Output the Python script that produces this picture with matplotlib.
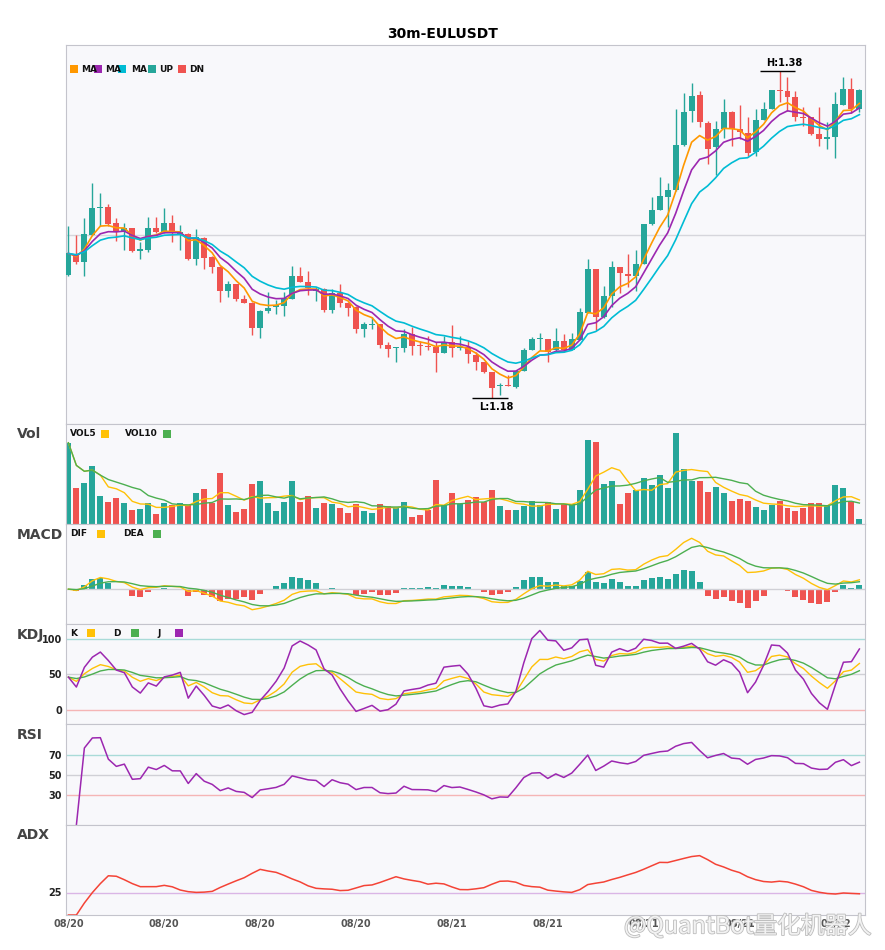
import matplotlib
matplotlib.use('Agg')
import matplotlib.pyplot as plt
import matplotlib.patheffects as pe
from matplotlib.patches import Rectangle
import numpy as np
import pandas as pd

# 30m candles, values
symbol = '30m-EULUSDT'
start_time = '2023-08-20 02:00'

opens = [1.2555, 1.2678, 1.2629, 1.2800, 1.2964, 1.2966, 1.2868, 1.2819, 1.2837, 1.2702,
         1.2708, 1.2837, 1.2813, 1.2868, 1.2806, 1.2806, 1.2653, 1.2776, 1.2665, 1.2604,
         1.2457, 1.2494, 1.2408, 1.2383, 1.2230, 1.2334, 1.2359, 1.2365, 1.2408, 1.2549,
         1.2512, 1.2457, 1.2469, 1.2340, 1.2444, 1.2383, 1.2359, 1.2224, 1.2248, 1.2254,
         1.2125, 1.2105, 1.2107, 1.2193, 1.2120, 1.2117, 1.2113, 1.2076, 1.2144, 1.2107,
         1.2113, 1.2064, 1.2021, 1.1960, 1.1874, 1.1880, 1.1868, 1.1966, 1.2095, 1.2162,
         1.2162, 1.2095, 1.2150, 1.2095, 1.2156, 1.2322, 1.2586, 1.2297, 1.2426, 1.2598,
         1.2561, 1.2543, 1.2622, 1.2862, 1.2948, 1.3027, 1.3070, 1.3346, 1.3555, 1.3653,
         1.3481, 1.3334, 1.3444, 1.3549, 1.3444, 1.3420, 1.3303, 1.3500, 1.3567, 1.3684,
         1.3678, 1.3641, 1.3518, 1.3518, 1.3414, 1.3387, 1.3395, 1.3592, 1.3690, 1.3567]
highs = [1.2849, 1.2794, 1.2898, 1.3113, 1.3052, 1.2984, 1.2898, 1.2868, 1.2837, 1.2757,
         1.2905, 1.2905, 1.2960, 1.2917, 1.2856, 1.2807, 1.2831, 1.2782, 1.2666, 1.2605,
         1.2518, 1.2494, 1.2432, 1.2384, 1.2335, 1.2451, 1.2402, 1.2451, 1.2610, 1.2598,
         1.2579, 1.2481, 1.2470, 1.2469, 1.2494, 1.2384, 1.2360, 1.2267, 1.2297, 1.2255,
         1.2144, 1.2113, 1.2224, 1.2236, 1.2150, 1.2181, 1.2144, 1.2181, 1.2248, 1.2181,
         1.2150, 1.2083, 1.2022, 1.1961, 1.1892, 1.1941, 1.1972, 1.2107, 1.2175, 1.2199,
         1.2163, 1.2230, 1.2193, 1.2199, 1.2352, 1.2653, 1.2587, 1.2487, 1.2635, 1.2604,
         1.2678, 1.2708, 1.2863, 1.3027, 1.3150, 1.3113, 1.3567, 1.3665, 1.3727, 1.3678,
         1.3494, 1.3494, 1.3629, 1.3555, 1.3592, 1.3518, 1.3567, 1.3610, 1.3685, 1.3800,
         1.3763, 1.3678, 1.3579, 1.3519, 1.3579, 1.3487, 1.3671, 1.3763, 1.3757, 1.3690]
lows = [1.2543, 1.2622, 1.2543, 1.2798, 1.2849, 1.2849, 1.2763, 1.2708, 1.2690, 1.2647,
        1.2690, 1.2811, 1.2811, 1.2757, 1.2708, 1.2641, 1.2616, 1.2586, 1.2567, 1.2389,
        1.2420, 1.2395, 1.2380, 1.2187, 1.2168, 1.2322, 1.2316, 1.2303, 1.2406, 1.2510,
        1.2432, 1.2395, 1.2328, 1.2322, 1.2359, 1.2303, 1.2199, 1.2175, 1.2224, 1.2107,
        1.2052, 1.2021, 1.2083, 1.2064, 1.2064, 1.2095, 1.1960, 1.2074, 1.2052, 1.2095,
        1.2015, 1.1972, 1.1954, 1.1800, 1.1819, 1.1872, 1.1862, 1.1965, 1.2094, 1.2095,
        1.2021, 1.2083, 1.2083, 1.2094, 1.2155, 1.2321, 1.2217, 1.2291, 1.2359, 1.2444,
        1.2481, 1.2457, 1.2621, 1.2861, 1.2947, 1.2843, 1.3069, 1.3340, 1.3487, 1.3457,
        1.3230, 1.3162, 1.3389, 1.3340, 1.3383, 1.3279, 1.3279, 1.3499, 1.3566, 1.3610,
        1.3555, 1.3494, 1.3463, 1.3408, 1.3340, 1.3322, 1.3267, 1.3591, 1.3543, 1.3549]
closes = [1.2684, 1.2629, 1.2800, 1.2960, 1.2967, 1.2862, 1.2813, 1.2837, 1.2702, 1.2708,
          1.2837, 1.2813, 1.2868, 1.2813, 1.2812, 1.2653, 1.2782, 1.2659, 1.2598, 1.2457,
          1.2494, 1.2408, 1.2383, 1.2230, 1.2334, 1.2352, 1.2371, 1.2414, 1.2549, 1.2512,
          1.2475, 1.2463, 1.2340, 1.2444, 1.2383, 1.2352, 1.2224, 1.2254, 1.2254, 1.2125,
          1.2101, 1.2108, 1.2193, 1.2119, 1.2117, 1.2113, 1.2076, 1.2144, 1.2107, 1.2113,
          1.2070, 1.2021, 1.1960, 1.1862, 1.1880, 1.1874, 1.1966, 1.2095, 1.2162, 1.2168,
          1.2083, 1.2150, 1.2095, 1.2162, 1.2328, 1.2586, 1.2297, 1.2426, 1.2604, 1.2567,
          1.2543, 1.2622, 1.2862, 1.2948, 1.3033, 1.3070, 1.3346, 1.3549, 1.3647, 1.3487,
          1.3322, 1.3444, 1.3549, 1.3444, 1.3426, 1.3297, 1.3500, 1.3567, 1.3684, 1.3678,
          1.3641, 1.3518, 1.3512, 1.3414, 1.3383, 1.3391, 1.3598, 1.3690, 1.3567, 1.3684]
volumes = [807, 357, 407, 573, 283, 223, 263, 213, 143, 153,
           213, 103, 213, 193, 213, 193, 303, 343, 213, 503,
           193, 123, 153, 393, 423, 213, 133, 223, 423, 223,
           283, 163, 213, 203, 163, 113, 203, 133, 113, 203,
           183, 163, 223, 73, 93, 143, 433, 193, 303, 203,
           243, 273, 223, 333, 183, 143, 143, 183, 233, 193,
           223, 153, 203, 203, 333, 833, 813, 393, 423, 203,
           303, 333, 453, 383, 483, 353, 903, 543, 423, 423,
           313, 363, 303, 233, 253, 233, 173, 143, 193, 233,
           163, 133, 163, 213, 213, 183, 383, 353, 223, 53]

df = pd.DataFrame({'open': opens, 'high': highs, 'low': lows, 'close': closes, 'vol': volumes})
df.index = pd.date_range(start_time, periods=len(df), freq='30min')
x = np.arange(len(df))

# ---- indicators ----
ma_spans = (5, 8, 13)
for n in ma_spans:
    df['ma%d' % n] = df['close'].ewm(span=n, adjust=False).mean()
df['vol5'] = df['vol'].rolling(5, min_periods=1).mean()
df['vol10'] = df['vol'].rolling(10, min_periods=1).mean()

ema_fast = df['close'].ewm(span=5, adjust=False).mean()
ema_slow = df['close'].ewm(span=13, adjust=False).mean()
df['dif'] = ema_fast - ema_slow
df['dea'] = df['dif'].ewm(span=5, adjust=False).mean()
df['macd'] = 2 * (df['dif'] - df['dea'])

llv = df['low'].rolling(9, min_periods=1).min()
hhv = df['high'].rolling(9, min_periods=1).max()
rsv = (df['close'] - llv) / (hhv - llv) * 100
df['k'] = rsv.ewm(com=2, adjust=False).mean()
df['d'] = df['k'].ewm(com=2, adjust=False).mean()
df['j'] = 3 * df['k'] - 2 * df['d']

delta = df['close'].diff()
gain = delta.clip(lower=0).fillna(0).ewm(alpha=1 / 14, adjust=False).mean()
loss = (-delta).clip(lower=0).fillna(0).ewm(alpha=1 / 14, adjust=False).mean()
df['rsi'] = 100 * gain / (gain + loss)

prev_close = df['close'].shift()
tr = pd.concat([df['high'] - df['low'], (df['high'] - prev_close).abs(),
                (df['low'] - prev_close).abs()], axis=1).max(axis=1)
up = df['high'].diff()
dn = -df['low'].diff()
pdm = pd.Series(np.where((up > dn) & (up > 0), up, 0.0), index=df.index)
mdm = pd.Series(np.where((dn > up) & (dn > 0), dn, 0.0), index=df.index)
atr = tr.ewm(span=14, adjust=False).mean()
pdi = 100 * pdm.ewm(span=14, adjust=False).mean() / atr
mdi = 100 * mdm.ewm(span=14, adjust=False).mean() / atr
dx = (100 * (pdi - mdi).abs() / (pdi + mdi)).fillna(0)
df['adx'] = dx.ewm(span=14, adjust=False).mean()

# ---- style ----
UP, DN = '#26a69a', '#ef5350'
C_MA = ['#ff9800', '#9c27b0', '#00bcd4']
AMBER, GREEN, PURPLE = '#ffc107', '#4caf50', '#9c27b0'
BG, SPINE = '#f8f8fb', '#c4c4cc'
W, H = 885, 950

fig = plt.figure(figsize=(W / 100, H / 100), dpi=100)


def add_panel(top, bottom):
    ax = fig.add_axes([66 / W, 1 - bottom / H, 799 / W, (bottom - top) / H])
    ax.set_facecolor(BG)
    for s in ax.spines.values():
        s.set_color(SPINE)
    ax.tick_params(length=0, labelsize=7, pad=3)
    ax.set_xlim(-0.3, 99.7)
    ax.set_xticks([])
    return ax


ax_k = add_panel(45, 424)
ax_v = add_panel(424, 524)
ax_m = add_panel(524, 624)
ax_kdj = add_panel(624, 724)
ax_rsi = add_panel(724, 825)
ax_adx = add_panel(825, 915)

colors = np.where(df['close'] >= df['open'], UP, DN)

# candles
ax_k.vlines(x, df['low'], df['high'], colors=colors, lw=1, zorder=2)
body = (df['close'] - df['open']).abs().clip(lower=0.0007)
ax_k.bar(x, body, bottom=df[['open', 'close']].min(axis=1), width=0.75, color=colors, zorder=3)
for n, c in zip(ma_spans, C_MA):
    ax_k.plot(x, df['ma%d' % n], color=c, lw=1.2, zorder=4)
lo_all, hi_all = df['low'].min(), df['high'].max()
rng = hi_all - lo_all
ax_k.set_ylim(lo_all - 0.08 * rng, hi_all + 0.08 * rng)
ax_k.set_yticks([1.28])
ax_k.set_yticklabels([])
ax_k.grid(axis='y', color='#d6d6dc', lw=1)

ih, il = int(df['high'].values.argmax()), int(df['low'].values.argmin())
ax_k.hlines(hi_all, ih - 2.5, ih + 2, color='black', lw=1, zorder=5)
ax_k.hlines(lo_all, il - 2.5, il + 2, color='black', lw=1, zorder=5)
ax_k.annotate('H:%.2f' % hi_all, (ih + 0.6, hi_all), xytext=(0, 2), textcoords='offset points',
              ha='center', va='bottom', fontsize=7, fontweight='bold')
ax_k.annotate('L:%.2f' % lo_all, (il + 0.5, lo_all), xytext=(0, -3), textcoords='offset points',
              ha='center', va='top', fontsize=7, fontweight='bold')

# volume
ax_v.bar(x, df['vol'], width=0.75, color=colors)
ax_v.plot(x, df['vol5'], color=AMBER, lw=1)
ax_v.plot(x, df['vol10'], color=GREEN, lw=1)
ax_v.set_ylim(0, df['vol'].max() * 1.1)
ax_v.set_yticks([])

# macd
ax_m.axhline(0, color='#d0d0d6', lw=1)
ax_m.bar(x, df['macd'], width=0.75, color=np.where(df['macd'] >= 0, UP, DN))
ax_m.plot(x, df['dif'], color=AMBER, lw=1)
ax_m.plot(x, df['dea'], color=GREEN, lw=1)
mlo = min(df['dif'].min(), df['dea'].min(), df['macd'].min())
mhi = max(df['dif'].max(), df['dea'].max(), df['macd'].max())
ax_m.set_ylim(mlo - 0.2 * (mhi - mlo), mhi + 0.2 * (mhi - mlo))
ax_m.set_yticks([])

# kdj
ax_kdj.axhline(100, color='#a9dbd8', lw=1)
ax_kdj.axhline(50, color='#d0d0d6', lw=1)
ax_kdj.axhline(0, color='#f5b5b5', lw=1)
ax_kdj.plot(x, df['k'], color=AMBER, lw=1)
ax_kdj.plot(x, df['d'], color=GREEN, lw=1)
ax_kdj.plot(x, df['j'], color=PURPLE, lw=1.1)
ax_kdj.set_ylim(-20, 121)
ax_kdj.set_yticks([0, 50, 100])

# rsi
ax_rsi.axhline(70, color='#a9dbd8', lw=1)
ax_rsi.axhline(50, color='#d0d0d6', lw=1)
ax_rsi.axhline(30, color='#f5b5b5', lw=1)
ax_rsi.plot(x, df['rsi'], color=PURPLE, lw=1.1)
ax_rsi.set_ylim(0, 101)
ax_rsi.set_yticks([30, 50, 70])

# adx
ax_adx.axhline(25, color='#dab6e6', lw=1)
ax_adx.plot(x, df['adx'], color='#f44336', lw=1.1)
ax_adx.set_ylim(0, 100)
ax_adx.set_yticks([25])
tick_idx = x[::12]
ax_adx.set_xticks(tick_idx)
ax_adx.set_xticklabels([df.index[i].strftime('%m/%d') for i in tick_idx],
                       fontsize=7, fontweight='bold', color='#555555')

for ax in (ax_kdj, ax_rsi, ax_adx):
    for lab in ax.get_yticklabels():
        lab.set_fontweight('bold')
        lab.set_color('#222222')

# titles, panel names, legends
fig.text(443 / W, 1 - 34 / H, symbol, ha='center', va='center', fontsize=10, fontweight='bold')
for name, yy in [('Vol', 434), ('MACD', 535), ('KDJ', 635), ('RSI', 735), ('ADX', 835)]:
    fig.text(17 / W, 1 - yy / H, name, ha='left', va='center', fontsize=10,
             fontweight='bold', color='#444444')


def square(px, py, color, size=7.7):
    fig.add_artist(Rectangle((px / W, 1 - (py + size / 2) / H), size / W, size / H,
                             transform=fig.transFigure, color=color, lw=0))


def label(px, py, txt):
    fig.text(px / W, 1 - py / H, txt, ha='left', va='center', fontsize=6.5,
             fontweight='bold', color='#111111')


main_items = [(70, 81, 'MA', C_MA[0]), (94, 105, 'MA', C_MA[1]), (118, 131, 'MA', C_MA[2]),
              (148, 159, 'UP', UP), (178, 189, 'DN', DN)]
for sx, tx, txt, c in main_items:
    label(tx, 69, txt)
    square(sx, 69, c)

panel_items = [
    (433.7, [(70, 101, 'VOL5', AMBER), (125, 163, 'VOL10', GREEN)]),
    (533.7, [(70, 97, 'DIF', AMBER), (123, 153, 'DEA', GREEN)]),
    (633.3, [(70, 87, 'K', AMBER), (113, 131, 'D', GREEN), (157, 175, 'J', PURPLE)]),
]
for yy, items in panel_items:
    for tx, sx, txt, c in items:
        label(tx, yy, txt)
        square(sx, yy, c)

fig.text(624 / W, 1 - 926 / H, '@QuantBot量化机器人', ha='left', va='center', fontsize=17,
         color='#f2f2f2', family=['Noto Sans CJK SC', 'DejaVu Sans'],
         path_effects=[pe.withStroke(linewidth=1.2, foreground='#bdbdbd')])

fig.savefig('out.png', dpi=100)
